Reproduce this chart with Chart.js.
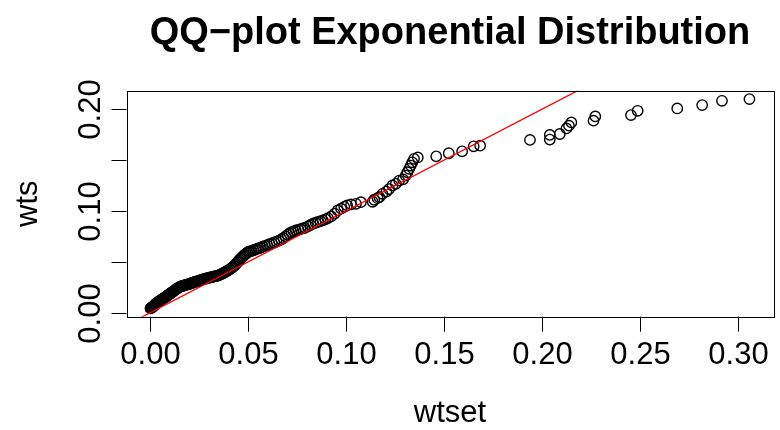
<!DOCTYPE html>
<html>
<head>
<meta charset="utf-8">
<script src="https://cdn.jsdelivr.net/npm/chart.js@4/dist/chart.umd.min.js"></script>
<style>
  body { margin: 0; background: #fff; }
  canvas { display: block; }
</style>
</head>
<body>
<canvas id="graficoQQ" width="780" height="430"></canvas>
<script>
// sorted sample quantiles (x = wtset, y = wts)
var wtset = [
    0.0002, 0.0005, 0.0008, 0.0011, 0.0014, 0.0017, 0.0020, 0.0024, 0.0027, 0.0031,
    0.0035, 0.0038, 0.0042, 0.0046, 0.0050, 0.0054, 0.0058, 0.0062, 0.0067, 0.0071,
    0.0076, 0.0080, 0.0085, 0.0089, 0.0094, 0.0099, 0.0104, 0.0109, 0.0114, 0.0119,
    0.0125, 0.0130, 0.0136, 0.0141, 0.0147,
    0.0153, 0.0158, 0.0164, 0.0169, 0.0175, 0.0181, 0.0186, 0.0192, 0.0198, 0.0204,
    0.0210, 0.0216, 0.0222, 0.0228, 0.0234, 0.0241, 0.0247, 0.0253, 0.0260, 0.0266,
    0.0273, 0.0279, 0.0286, 0.0293, 0.0300, 0.0307, 0.0314, 0.0321, 0.0328, 0.0336,
    0.0343, 0.0350,
    0.0358, 0.0366, 0.0374, 0.0382, 0.0390, 0.0398, 0.0406, 0.0413, 0.0420, 0.0427,
    0.0433, 0.0439, 0.0445, 0.0451, 0.0457, 0.0463, 0.0469, 0.0475, 0.0481, 0.0488,
    0.0495, 0.0503, 0.0510, 0.0518, 0.0527, 0.0536, 0.0545, 0.0555, 0.0565, 0.0575,
    0.0586,
    0.0597, 0.0609, 0.0621, 0.0633, 0.0645, 0.0657, 0.0669, 0.0680, 0.0691, 0.0701,
    0.0711, 0.0721, 0.0732, 0.0743, 0.0755, 0.0767, 0.0778, 0.0789,
    0.0805, 0.0818, 0.0831, 0.0844, 0.0856, 0.0869, 0.0881, 0.0894, 0.0907, 0.0924,
    0.0941, 0.0957, 0.0974, 0.0990, 0.1005, 0.1025, 0.1050, 0.1075, 0.1135, 0.1143,
    0.1160, 0.1169, 0.1185, 0.1205, 0.1219, 0.1236, 0.1253, 0.1270, 0.1290, 0.1303,
    0.1312, 0.1321, 0.1329, 0.1337, 0.1346, 0.1365,
    0.1459, 0.1523, 0.1591, 0.1650, 0.1683, 0.1937, 0.2038, 0.2038, 0.2089, 0.2123,
    0.2136, 0.2148, 0.2261, 0.2270, 0.2452, 0.2486, 0.2688, 0.2815, 0.2916, 0.3056
];
var wts = [
    0.0044, 0.0048, 0.0051, 0.0054, 0.0059, 0.0065, 0.0071, 0.0078, 0.0085, 0.0093,
    0.0098, 0.0103, 0.0108, 0.0113, 0.0118, 0.0124, 0.0129, 0.0134, 0.0140, 0.0146,
    0.0152, 0.0157, 0.0163, 0.0170, 0.0176, 0.0183, 0.0190, 0.0197, 0.0204, 0.0212,
    0.0220, 0.0228, 0.0236, 0.0243, 0.0250,
    0.0255, 0.0259, 0.0263, 0.0266, 0.0269, 0.0273, 0.0276, 0.0280, 0.0283, 0.0287,
    0.0290, 0.0295, 0.0299, 0.0303, 0.0306, 0.0310, 0.0314, 0.0318, 0.0322, 0.0326,
    0.0330, 0.0333, 0.0337, 0.0341, 0.0344, 0.0348, 0.0351, 0.0354, 0.0357, 0.0361,
    0.0364, 0.0368,
    0.0375, 0.0383, 0.0391, 0.0399, 0.0408, 0.0417, 0.0427, 0.0436, 0.0446, 0.0458,
    0.0470, 0.0482, 0.0496, 0.0510, 0.0522, 0.0534, 0.0546, 0.0557, 0.0568, 0.0579,
    0.0590, 0.0600, 0.0604, 0.0608, 0.0614, 0.0620, 0.0627, 0.0634, 0.0641, 0.0649,
    0.0658,
    0.0665, 0.0673, 0.0681, 0.0690, 0.0699, 0.0708, 0.0720, 0.0734, 0.0750, 0.0765,
    0.0779, 0.0791, 0.0800, 0.0808, 0.0815, 0.0822, 0.0828, 0.0834,
    0.0848, 0.0862, 0.0875, 0.0884, 0.0893, 0.0900, 0.0907, 0.0918, 0.0930, 0.0946,
    0.0973, 0.1005, 0.1022, 0.1040, 0.1054, 0.1064, 0.1070, 0.1086, 0.1090, 0.1110,
    0.1125, 0.1135, 0.1168, 0.1190, 0.1215, 0.1250, 0.1266, 0.1298, 0.1310, 0.1347,
    0.1380, 0.1413, 0.1445, 0.1477, 0.1511, 0.1525,
    0.1536, 0.1566, 0.1585, 0.1634, 0.1641, 0.1697, 0.1700, 0.1746, 0.1755, 0.1810,
    0.1837, 0.1869, 0.1886, 0.1928, 0.1941, 0.1983, 0.2006, 0.2039, 0.2081, 0.2098
];

// reference line abline(0, 1)
var refLine = { intercept: 0, slope: 1 };

var xTicks = [0, 0.05, 0.10, 0.15, 0.20, 0.25, 0.30];
var xTickLabels = ['0.00', '0.05', '0.10', '0.15', '0.20', '0.25', '0.30'];
var yTicks = [0, 0.05, 0.10, 0.15, 0.20];
var yTickLabels = ['0.00', '', '0.10', '', '0.20'];

var titulo = 'QQ\u2212plot Exponential Distribution';
var xLabel = 'wtset';
var yLabel = 'wts';

document.addEventListener('DOMContentLoaded', function () {
    // R style range: data range plus 4% each side
    function faixa(v) {
        var lo = Math.min.apply(null, v), hi = Math.max.apply(null, v);
        var d = (hi - lo) * 0.04;
        return [lo - d, hi + d];
    }
    var fx = faixa(wtset);
    var fy = faixa(wts);

    var pontos = wtset.map(function (x, i) { return { x: x, y: wts[i] }; });
    var linha = [fx[0], fx[1]].map(function (x) {
        return { x: x, y: refLine.intercept + refLine.slope * x };
    });

    var fonte = '"Liberation Sans", Arial, Helvetica, sans-serif';

    var eixosR = {
        id: 'eixosR',
        afterDraw: function (chart) {
            var ctx = chart.ctx;
            var a = chart.chartArea;
            var sx = chart.scales.x, sy = chart.scales.y;
            ctx.save();
            ctx.strokeStyle = '#000';
            ctx.fillStyle = '#000';
            ctx.lineWidth = 1;

            // box
            ctx.strokeRect(Math.round(a.left) + 0.5, Math.round(a.top) + 0.5,
                Math.round(a.right - a.left), Math.round(a.bottom - a.top));

            // x axis
            ctx.font = '31px ' + fonte;
            ctx.textAlign = 'center';
            ctx.textBaseline = 'middle';
            xTicks.forEach(function (v, i) {
                var px = Math.round(sx.getPixelForValue(v)) + 0.5;
                ctx.beginPath();
                ctx.moveTo(px, a.bottom);
                ctx.lineTo(px, a.bottom + 15);
                ctx.stroke();
                ctx.fillText(xTickLabels[i], px, 355);
            });

            // y axis
            yTicks.forEach(function (v, i) {
                var py = Math.round(sy.getPixelForValue(v)) + 0.5;
                ctx.beginPath();
                ctx.moveTo(a.left, py);
                ctx.lineTo(a.left - 15, py);
                ctx.stroke();
                if (yTickLabels[i]) {
                    ctx.save();
                    ctx.translate(91, py);
                    ctx.rotate(-Math.PI / 2);
                    ctx.fillText(yTickLabels[i], 0, 0);
                    ctx.restore();
                }
            });

            // axis titles
            ctx.fillText(xLabel, (a.left + a.right) / 2, 413);
            ctx.save();
            ctx.translate(28, (a.top + a.bottom) / 2);
            ctx.rotate(-Math.PI / 2);
            ctx.fillText(yLabel, 0, 0);
            ctx.restore();

            // main title
            ctx.font = 'bold 38px ' + fonte;
            ctx.fillText(titulo, (a.left + a.right) / 2, 34);
            ctx.restore();
        }
    };

    var ctxQQ = document.getElementById('graficoQQ').getContext('2d');
    new Chart(ctxQQ, {
        type: 'scatter',
        data: {
            datasets: [{
                label: 'abline',
                data: linha,
                showLine: true,
                borderColor: '#ff0000',
                borderWidth: 1.3,
                pointRadius: 0,
                fill: false,
                order: 0
            }, {
                label: 'wts',
                data: pontos,
                pointStyle: 'circle',
                pointRadius: 5.2,
                borderColor: '#000000',
                backgroundColor: 'rgba(0,0,0,0)',
                borderWidth: 1.4,
                order: 1
            }]
        },
        options: {
            responsive: false,
            devicePixelRatio: 1,
            animation: false,
            layout: { padding: { left: 126.5, right: 2, top: 90.7, bottom: 113.3 } },
            scales: {
                x: { type: 'linear', min: fx[0], max: fx[1], display: false },
                y: { type: 'linear', min: fy[0], max: fy[1], display: false }
            },
            plugins: {
                legend: { display: false },
                tooltip: { enabled: false },
                title: { display: false }
            }
        },
        plugins: [eixosR]
    });
});
</script>
</body>
</html>
